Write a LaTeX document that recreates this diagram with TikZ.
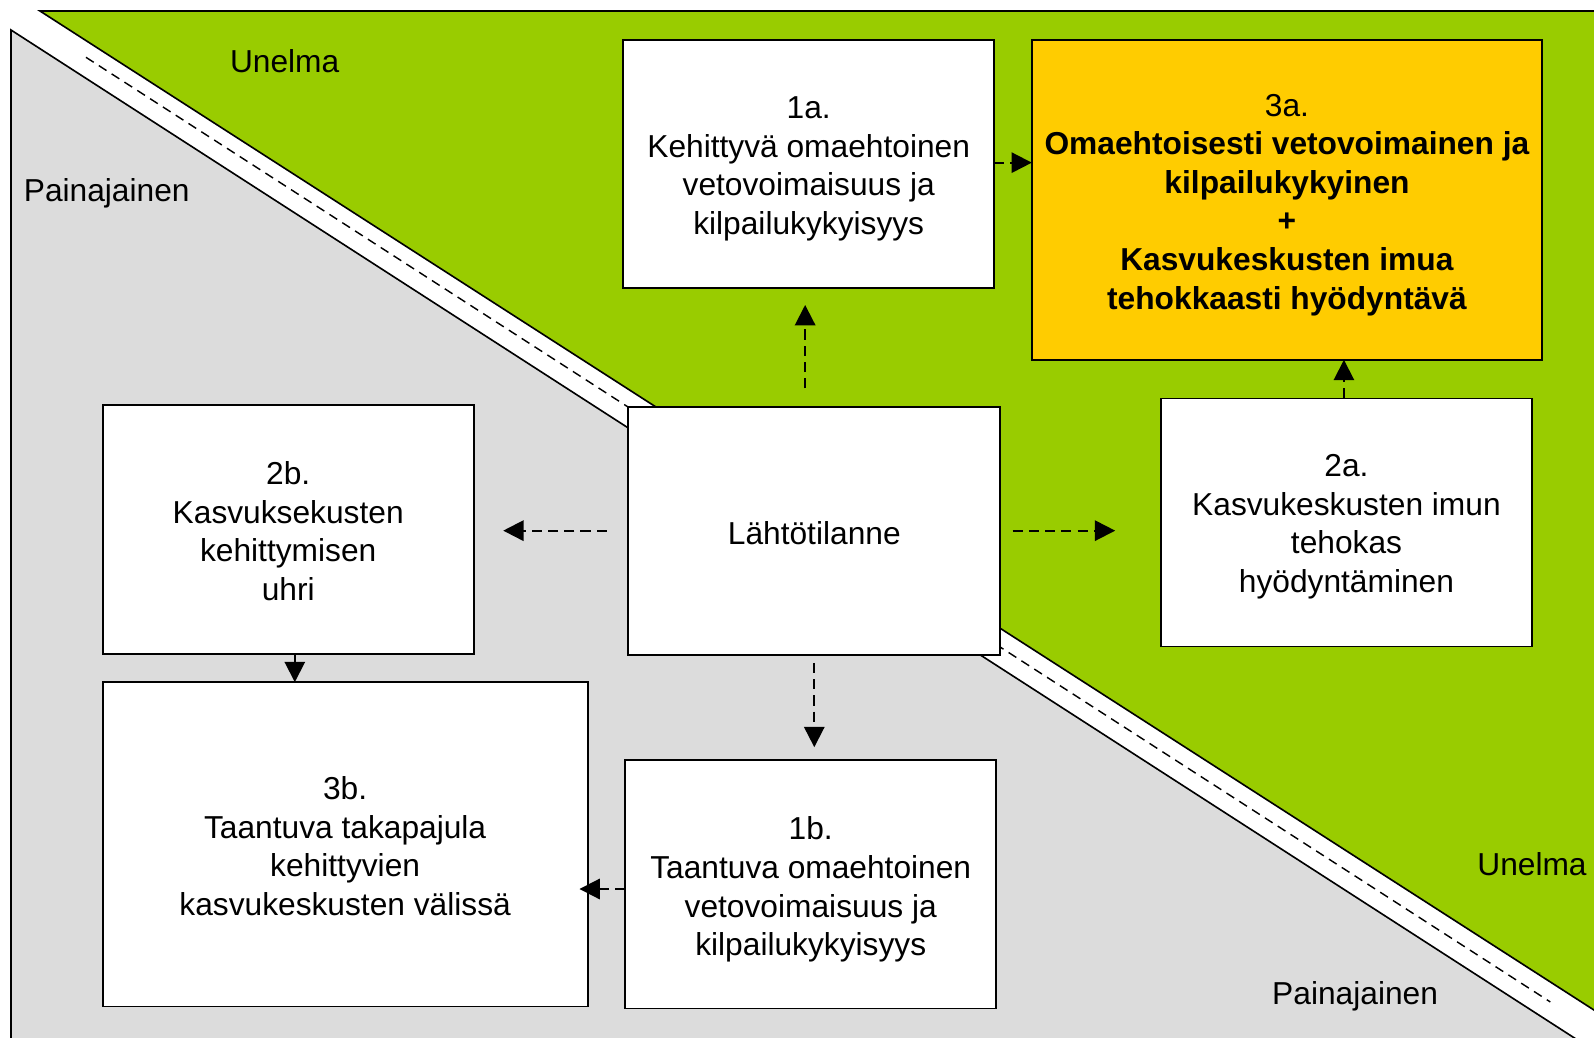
\documentclass[tikz,border=0pt]{standalone}
\usepackage{fontspec}
\setmainfont{Liberation Sans}
\usetikzlibrary{arrows.meta,calc}
\definecolor{dreamgreen}{HTML}{99CC00}
\definecolor{nightgray}{HTML}{DCDCDC}
\definecolor{goalorange}{HTML}{FFCC00}
\begin{document}
\begin{tikzpicture}[x=0.5pt,y=-0.5pt,
  every node/.style={font=\fontsize{15.6}{19}\selectfont},
  stagebox/.style={draw=black, line width=0.9pt, fill=white, inner sep=0pt, outer sep=0pt},
  boxtext/.style={inner sep=0pt, align=center},
  darr/.style={line width=1pt, dash pattern=on 5pt off 3pt, -{Triangle[length=10pt,width=10pt]}},
  sarr/.style={line width=1pt, -{Triangle[length=10pt,width=10pt]}},
  lbl/.style={inner sep=0pt, anchor=center}
]
\useasboundingbox (0,0) rectangle (1568,1021);
\begin{scope}
\clip (0,0) rectangle (1568,1021);
% green "Unelma" triangle
\filldraw[fill=dreamgreen, draw=black, line width=0.8pt]
  (39.3,10.8) -- (1620,10.8) -- (1620,1027) -- cycle;
% gray "Painajainen" triangle
\filldraw[fill=nightgray, draw=black, line width=0.8pt]
  (10.8,29.5) -- (1620,1067) -- (10.8,1067) -- cycle;
% dashed centre line of the white band
\draw[line width=0.7pt, dash pattern=on 4.5pt off 3pt] (84.6,56.4) -- (1525,985.6);
\end{scope}

% labels
\node[lbl] (u1) at (280,60) {Unelma};
\node[lbl] (p1) at (105,190) {Painajainen};
\node[lbl] (u2) at (1507,850) {Unelma};
\node[lbl] (p2) at (1333,980) {Painajainen};

% boxes
\node[stagebox, minimum width=182.5pt, minimum height=122pt] (a1) at (795.5,161) {};
\node[boxtext] (a1t) at ([yshift=-2.5pt]a1.center)
  {1a.\\Kehittyvä omaehtoinen\\vetovoimaisuus ja\\kilpailukykyisyys};
\node[stagebox, fill=goalorange, minimum width=251pt, minimum height=157.5pt] (a3) at (1266,196.5) {};
\node[boxtext] (a3t) at ([yshift=-2.5pt]a3.center)
  {3a.\\\textbf{Omaehtoisesti vetovoimainen ja}\\\textbf{kilpailukykyinen}\\\textbf{+}\\\textbf{Kasvukeskusten imua}\\\textbf{tehokkaasti hyödyntävä}};
\node[stagebox, minimum width=183pt, minimum height=122pt] (lah) at (801,522) {};
\node[boxtext] (laht) at ([yshift=-1pt]lah.center) {Lähtötilanne};
\node[stagebox, minimum width=182.5pt, minimum height=122pt] (a2) at (1324.5,514) {};
\node[boxtext] (a2t) at ([yshift=-2pt]a2.center)
  {2a.\\Kasvukeskusten imun\\tehokas\\hyödyntäminen};
\node[stagebox, minimum width=182.5pt, minimum height=122.5pt] (b2) at (283.5,520.5) {};
\node[boxtext] (b2t) at ([yshift=-1pt]b2.center)
  {2b.\\Kasvuksekusten\\kehittymisen\\uhri};
\node[stagebox, minimum width=238.5pt, minimum height=159.5pt] (b3) at (339.5,830.5) {};
\node[boxtext] (b3t) at ([yshift=-1pt]b3.center)
  {3b.\\Taantuva takapajula\\kehittyvien\\kasvukeskusten välissä};
\node[stagebox, minimum width=182.5pt, minimum height=122pt] (b1) at (797.5,870) {};
\node[boxtext] (b1t) at ([yshift=-2.5pt]b1.center)
  {1b.\\Taantuva omaehtoinen\\vetovoimaisuus ja\\kilpailukykyisyys};

% connectors
\draw[darr, shorten <=9pt, shorten >=8.5pt]
  ([xshift=-4.5pt]lah.north) -- ([xshift=-4.5pt]lah.north |- a1.south);
\draw[darr, shorten <=10.5pt, shorten >=14.5pt]
  (lah.west) -- (lah.west -| b2.east);
\draw[darr, shorten <=6pt, shorten >=22.5pt]
  (lah.east) -- (lah.east -| a2.west);
\draw[darr, shorten <=4pt, shorten >=6.5pt]
  (lah.south) -- (lah.south |- b1.north);
\draw[darr]
  ([yshift=0.5pt]a1.east) -- ([yshift=0.5pt]a1.east -| a3.west);
\draw[darr]
  ([xshift=-1.25pt]a2.north) -- ([xshift=-1.25pt]a2.north |- a3.south);
\draw[sarr]
  ([xshift=3.25pt]b2.south) -- ([xshift=3.25pt]b2.south |- b3.north);
\draw[darr, shorten >=-4pt]
  ([yshift=-2.25pt]b1.west) -- ([yshift=-2.25pt]b1.west -| b3.east);
\end{tikzpicture}
\end{document}
